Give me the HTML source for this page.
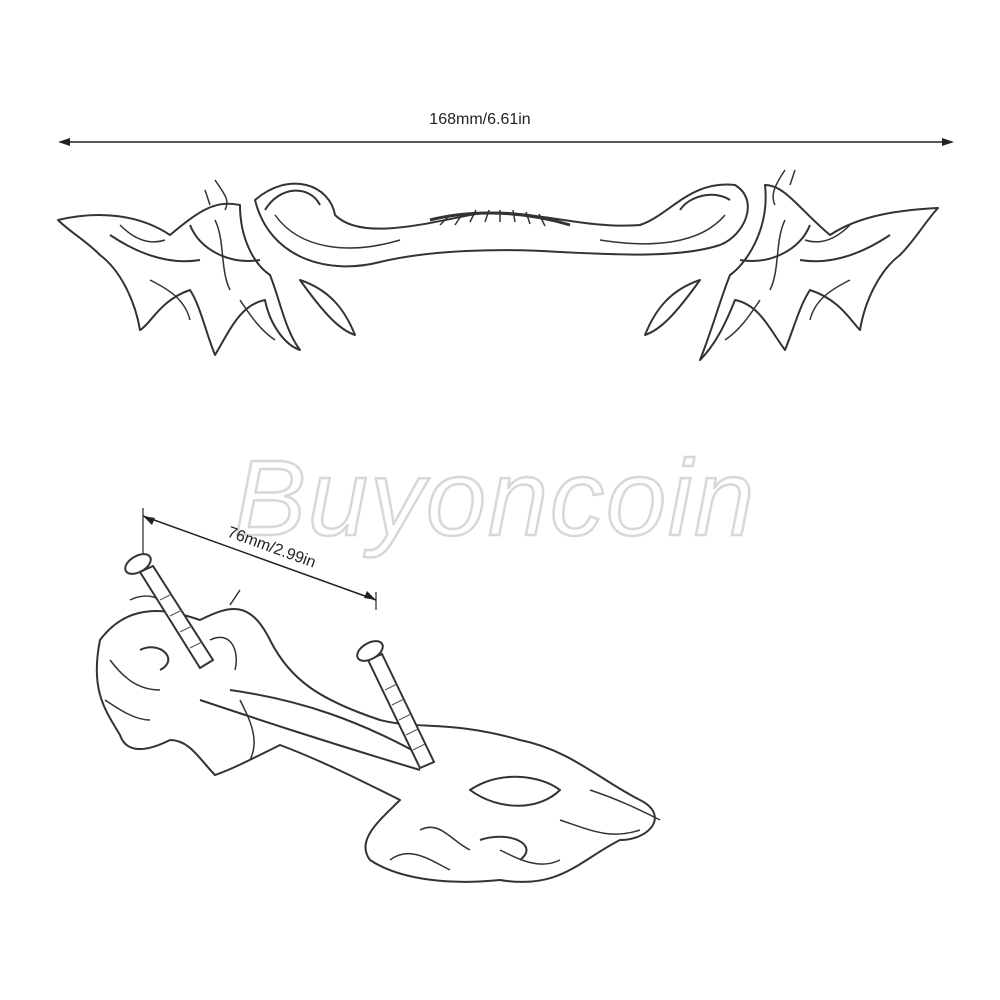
<!DOCTYPE html>
<html><head><meta charset="utf-8"><style>
html,body{margin:0;padding:0;background:#fff;}
svg{display:block}
</style></head><body>
<svg width="1000" height="1000" viewBox="0 0 1000 1000" xmlns="http://www.w3.org/2000/svg">
<rect width="1000" height="1000" fill="#fff"/>
<!-- top dimension -->
<line x1="62" y1="142" x2="950" y2="142" stroke="#222" stroke-width="1.5"/>
<polygon points="58,142 70,138 70,146" fill="#222"/>
<polygon points="954,142 942,138 942,146" fill="#222"/>
<text x="480" y="124" font-family="Liberation Sans, sans-serif" font-size="16" text-anchor="middle" fill="#222">168mm/6.61in</text>
<!-- top handle -->
<g fill="none" stroke="#333" stroke-width="2" stroke-linejoin="round">
<path d="M255,200 C290,170 330,185 335,215 C360,240 420,225 470,215 C520,205 580,230 640,225 C670,215 690,180 735,185 C760,200 745,235 720,245 C680,258 620,255 560,252 C500,248 430,250 380,262 C330,275 270,260 255,200Z"/>
<path d="M265,210 C280,185 310,185 320,205"/>
<path d="M730,200 C715,190 690,195 680,210"/>
<path d="M275,215 C300,250 350,255 400,240 M725,215 C700,245 650,248 600,240" stroke-width="1.5"/>
<path d="M430,220 C470,210 520,210 570,225" stroke-width="3"/>
<path d="M440,225 l10,-10 M455,225 l8,-12 M470,222 l6,-12 M485,222 l4,-12 M500,222 l0,-12 M515,222 l-2,-12 M530,224 l-4,-12 M545,226 l-6,-12" stroke-width="1.5"/>
<path d="M58,220 C100,210 140,215 170,235 C200,210 215,200 240,205 C240,240 255,265 270,275 C280,300 285,330 300,350 C285,345 270,325 265,300 C240,305 230,330 215,355 C205,330 200,305 190,290 C160,300 150,325 140,330 C135,300 120,270 100,255 C85,240 70,232 58,220Z"/>
<path d="M300,280 C330,290 345,310 355,335 C340,330 325,315 300,280Z"/>
<path d="M938,208 C900,210 860,215 830,235 C800,210 785,185 765,185 C770,230 745,265 730,275 C720,300 712,330 700,360 C715,345 725,325 735,300 C760,305 770,330 785,350 C795,325 800,305 810,290 C840,300 850,320 860,330 C865,300 880,270 900,255 C915,240 925,222 938,208Z"/>
<path d="M700,280 C670,290 655,310 645,335 C660,330 675,315 700,280Z"/>
<path d="M110,235 C140,255 170,265 200,260 M190,225 C200,250 230,265 260,260 M810,225 C800,250 770,265 740,260 M890,235 C860,255 830,265 800,260"/>
<path d="M120,225 C135,240 150,245 165,240 M150,280 C170,290 185,300 190,320 M215,220 C225,240 220,270 230,290 M240,300 C250,315 260,330 275,340 M850,225 C835,240 820,245 805,240 M850,280 C830,290 815,300 810,320 M785,220 C775,240 780,270 770,290 M760,300 C750,315 740,330 725,340 M205,190 l5,15 M795,170 l-5,15 M215,180 C225,195 230,200 225,210 M785,170 C775,185 770,195 775,205" stroke-width="1.5"/>
</g>
<!-- watermark -->
<text x="495" y="535" font-family="Liberation Sans, sans-serif" font-size="108" font-style="italic" text-anchor="middle" fill="#fff" stroke="#d8d8d8" stroke-width="2.5" letter-spacing="2">Buyoncoin</text>
<!-- bottom dimension -->
<line x1="143" y1="516" x2="376" y2="600" stroke="#222" stroke-width="1.5"/>
<line x1="143" y1="508" x2="143" y2="555" stroke="#222" stroke-width="1.2"/>
<line x1="376" y1="592" x2="376" y2="610" stroke="#222" stroke-width="1.2"/>
<polygon points="143,516 155,518 152,525" fill="#222"/>
<polygon points="376,600 364,598 367,591" fill="#222"/>
<text x="270" y="552" font-family="Liberation Sans, sans-serif" font-size="16" fill="#222" transform="rotate(20 270 552)" text-anchor="middle">76mm/2.99in</text>
<!-- bottom handle -->
<g fill="none" stroke="#333" stroke-width="2" stroke-linejoin="round">
<path d="M100,640 C130,600 170,610 200,620 C230,605 250,600 270,640 C290,680 320,700 380,720 C420,730 450,720 520,740 C570,750 600,780 640,800 C670,815 650,840 620,840 C580,860 560,890 500,880 C450,885 400,880 370,860 C355,840 380,820 400,800 C360,780 320,760 280,745 C250,760 230,770 215,775 C200,760 190,740 170,740 C140,755 125,750 120,735 C105,710 90,690 100,640Z"/>
<path d="M200,700 C260,720 320,740 420,770"/>
<path d="M230,690 C300,700 360,720 430,760"/>
<path d="M470,790 C500,770 540,775 560,790 C540,810 500,812 470,790Z"/>
<path d="M140,650 C160,640 180,660 160,670 M480,840 C510,830 540,845 520,860"/>
<path d="M110,660 C125,680 140,690 160,690 M105,700 C120,710 135,720 150,720 M210,640 C230,630 240,650 235,670 M240,700 C250,720 260,740 250,760 M130,600 C150,590 170,600 175,620 M230,605 l10,-15 M590,790 C620,800 640,810 660,820 M560,820 C590,830 610,840 640,830 M420,830 C440,820 450,840 470,850 M500,850 C520,860 540,870 560,860 M390,860 C410,845 430,860 450,870" stroke-width="1.5"/>
</g>
<!-- screws -->
<g stroke="#333" stroke-width="2" fill="#fff">
<path d="M140,572 L200,668 L213,660 L153,566Z"/>
<ellipse cx="138" cy="564" rx="14" ry="8" transform="rotate(-30 138 564)"/>
<path d="M368,660 L420,768 L434,762 L382,654Z"/>
<ellipse cx="370" cy="651" rx="14" ry="8" transform="rotate(-30 370 651)"/>
</g>
<g stroke="#555" stroke-width="1">
<path d="M160,600 l12,-6 M170,616 l12,-6 M180,632 l12,-6 M190,648 l12,-6 M385,690 l12,-6 M392,705 l12,-6 M399,720 l12,-6 M406,735 l12,-6 M413,750 l12,-6"/>
</g>
</svg>
</body></html>
